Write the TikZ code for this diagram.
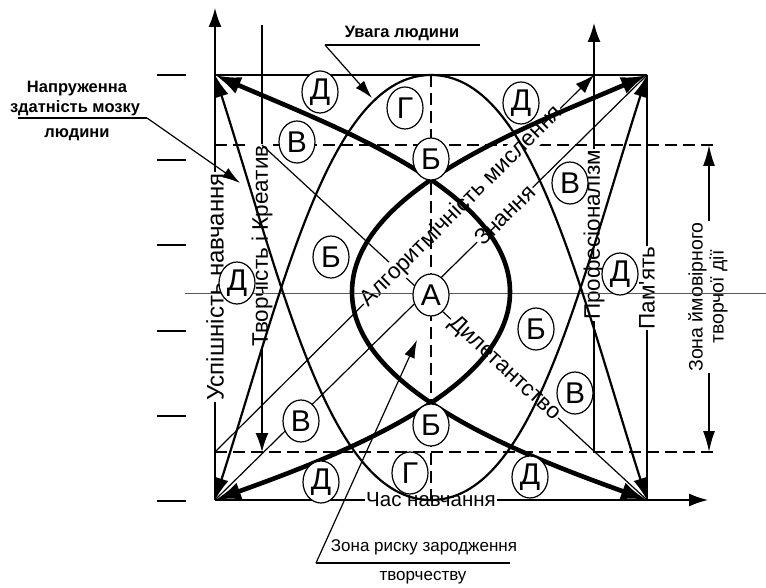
\documentclass[tikz,border=0pt]{standalone}
\usepackage{fontspec}
\setmainfont{Liberation Sans}
\usetikzlibrary{arrows.meta,shapes.geometric}
\begin{document}
\begin{tikzpicture}[x=1pt,y=-1pt,
  thinln/.style={line width=1.2pt},
  axisln/.style={line width=1.5pt},
  curvethin/.style={line width=2.2pt},
  curvethick/.style={line width=4.6pt},
  dashln/.style={line width=1.8pt, dash pattern=on 12pt off 6pt},
  axlabel/.style={font=\fontsize{22.5}{26}\selectfont, fill=white, inner sep=1pt},
  letter/.style={ellipse, draw, line width=1.2pt, fill=white, minimum width=36pt, minimum height=42pt, inner sep=0pt, font=\fontsize{30}{30}\selectfont},
  annot/.style={font=\bfseries\fontsize{16.5}{19}\selectfont, inner sep=0pt},
  note/.style={font=\fontsize{17}{20}\selectfont, inner sep=0pt},
  axtip/.style={-{Latex[length=19pt,width=13pt]}},
  ctip/.style={-{Latex[length=22pt,width=14pt]}},
  ktips/.style={{Latex[length=26pt,width=18pt]}-{Latex[length=26pt,width=18pt]}},
  leadtip/.style={-{Latex[length=18pt,width=11pt]}},
  dbltip/.style={{Latex[length=21pt,width=12pt]}-{Latex[length=21pt,width=12pt]}}
]
\useasboundingbox (0,0) rectangle (766,588);

% key points
\coordinate (TL) at (215,75);
\coordinate (TR) at (647,75);
\coordinate (BL) at (215,500);
\coordinate (BR) at (647,500);
\coordinate (TC) at (431,75);
\coordinate (BC) at (431,500);
\coordinate (ytop) at (215,8);
\coordinate (xend) at (708,500);
\coordinate (pbot) at (594,452);
\coordinate (ptop) at (594,23);
\coordinate (ttop) at (262,25);
\coordinate (tbot) at (262,452);
\coordinate (ztop) at (709,145);
\coordinate (zbot) at (709,452);
\coordinate (d1a) at (215,145);
\coordinate (d1b) at (718,145);
\coordinate (d2a) at (215,452);
\coordinate (d2b) at (718,452);
\coordinate (sA) at (262,145);
\coordinate (gL) at (185,293);
\coordinate (gR) at (766,293);

% ticks
\foreach \y in {75,160,245,331,416,501} \draw[line width=1.3pt] (157,\y) -- (186,\y);

% dashed horizontals
\draw[dashln] (d1a) -- (d1b);
\draw[dashln] (d2a) -- (d2b);

% axes and vertical lines with labels
\draw[axisln, axtip] (BL) -- (ytop);
\node[axlabel, rotate=90, font=\fontsize{24}{26}\selectfont] (lUsp) at (215,287) {Успішність навчання};
\draw[axisln, axtip] (BL) -- (xend);
\node[axlabel, font=\fontsize{20.5}{24}\selectfont] (lChas) at (431,500) {Час навчання};
\draw[axisln] (TR) -- (BR);
\node[axlabel, rotate=90] (lPam) at (647,288) {Пам\textquotesingle ять};
\draw[axisln, axtip] (pbot) -- (ptop);
\node[axlabel, rotate=90] (lProf) at (594,235) {Професіоналізм};
\draw[axisln, axtip] (ttop) -- (tbot);
\node[axlabel, rotate=90] (lTv) at (262,246) {Творчість і Креатив};
\draw[axisln, dbltip] (ztop) -- (zbot);
\node[fill=white, inner sep=1pt, rotate=90, align=center, font=\fontsize{19.5}{21}\selectfont] (lZona) at (708,297) {Зона ймовірного\\творчої дії};
\draw[line width=1.3pt] (TL) -- (TR);

% straight thin lines with labels
\draw[thinln] (BL) -- (TR) node[sloped, pos=0.671, axlabel] (lZn) {Знання};
\draw[thinln] (sA) -- (BR) node[sloped, pos=0.63, axlabel] (lDil) {Дилетантство};
\draw[thinln, axtip] (d2a) -- (ptop |- TL) node[sloped, pos=0.652, axlabel] (lAlg) {Алгоритмічність мислення};

% dashed vertical and gray centre line
\draw[dashln] (TC) -- (BC);
\draw[black!65, line width=1pt] (gL) -- (gR);

% thin curves (attention)
\draw[curvethin, ctip] (TC) .. controls (331,75) and (285,280) .. (BL);
\draw[curvethin, ctip] (BC) .. controls (331,500) and (285,295) .. (TL);
\draw[curvethin, ctip] (TC) .. controls (531,75) and (577,280) .. (BR);
\draw[curvethin, ctip] (BC) .. controls (531,500) and (577,295) .. (TR);

% thick curves
\draw[curvethick, ktips] (TL) .. controls (330,125) and (510,190) .. (510,292) .. controls (510,390) and (340,455) .. (BL);
\draw[curvethick, ktips] (TR) .. controls (532,125) and (352,190) .. (352,292) .. controls (352,390) and (522,455) .. (BR);

% annotations
\node[annot] (n1) at (77,89) {Напруженна};
\node[annot] (n2) at (75,108) {здатність мозку};
\node[annot] (n3) at (77,135) {людини};
\coordinate (u1a) at (18,118);
\coordinate (u1b) at (147,118);
\coordinate (u1t) at (240,183);
\draw[thinln] (u1a) -- (u1b);
\draw[thinln, leadtip] (u1b) -- (u1t);

\node[annot] (uv) at (402,33) {Увага людини};
\coordinate (u2a) at (325,45);
\coordinate (u2b) at (480,45);
\coordinate (u2t) at (372,98);
\draw[thinln] (u2a) -- (u2b);
\draw[thinln, leadtip] (u2a) -- (u2t);

\node[note] (zr) at (424,547) {Зона риску зародження};
\node[note] (zt) at (423,578) {творчеству};
\coordinate (u3a) at (316,563);
\coordinate (u3b) at (510,563);
\coordinate (u3t) at (417,340);
\draw[thinln] (u3a) -- (u3b);
\draw[thinln, leadtip] (u3a) -- (u3t);

% labelled circles
\node[letter] (c1) at (320,92) {Д};
\node[letter] (c2) at (405,108) {Г};
\node[letter] (c3) at (431,159) {Б};
\node[letter] (c4) at (297,142) {В};
\node[letter] (c5) at (331,257) {Б};
\node[letter] (c6) at (237,283) {Д};
\node[letter] (c7) at (431,295) {А};
\node[letter] (c8) at (301,421) {В};
\node[letter] (c9) at (431,425) {Б};
\node[letter] (c10) at (321,482) {Д};
\node[letter] (c11) at (410,473) {Г};
\node[letter] (c12) at (521,103) {Д};
\node[letter] (c13) at (570,183) {В};
\node[letter] (c14) at (620,274) {Д};
\node[letter] (c15) at (536,329) {Б};
\node[letter] (c16) at (575,393) {В};
\node[letter] (c17) at (530,477) {Д};
\end{tikzpicture}
\end{document}
